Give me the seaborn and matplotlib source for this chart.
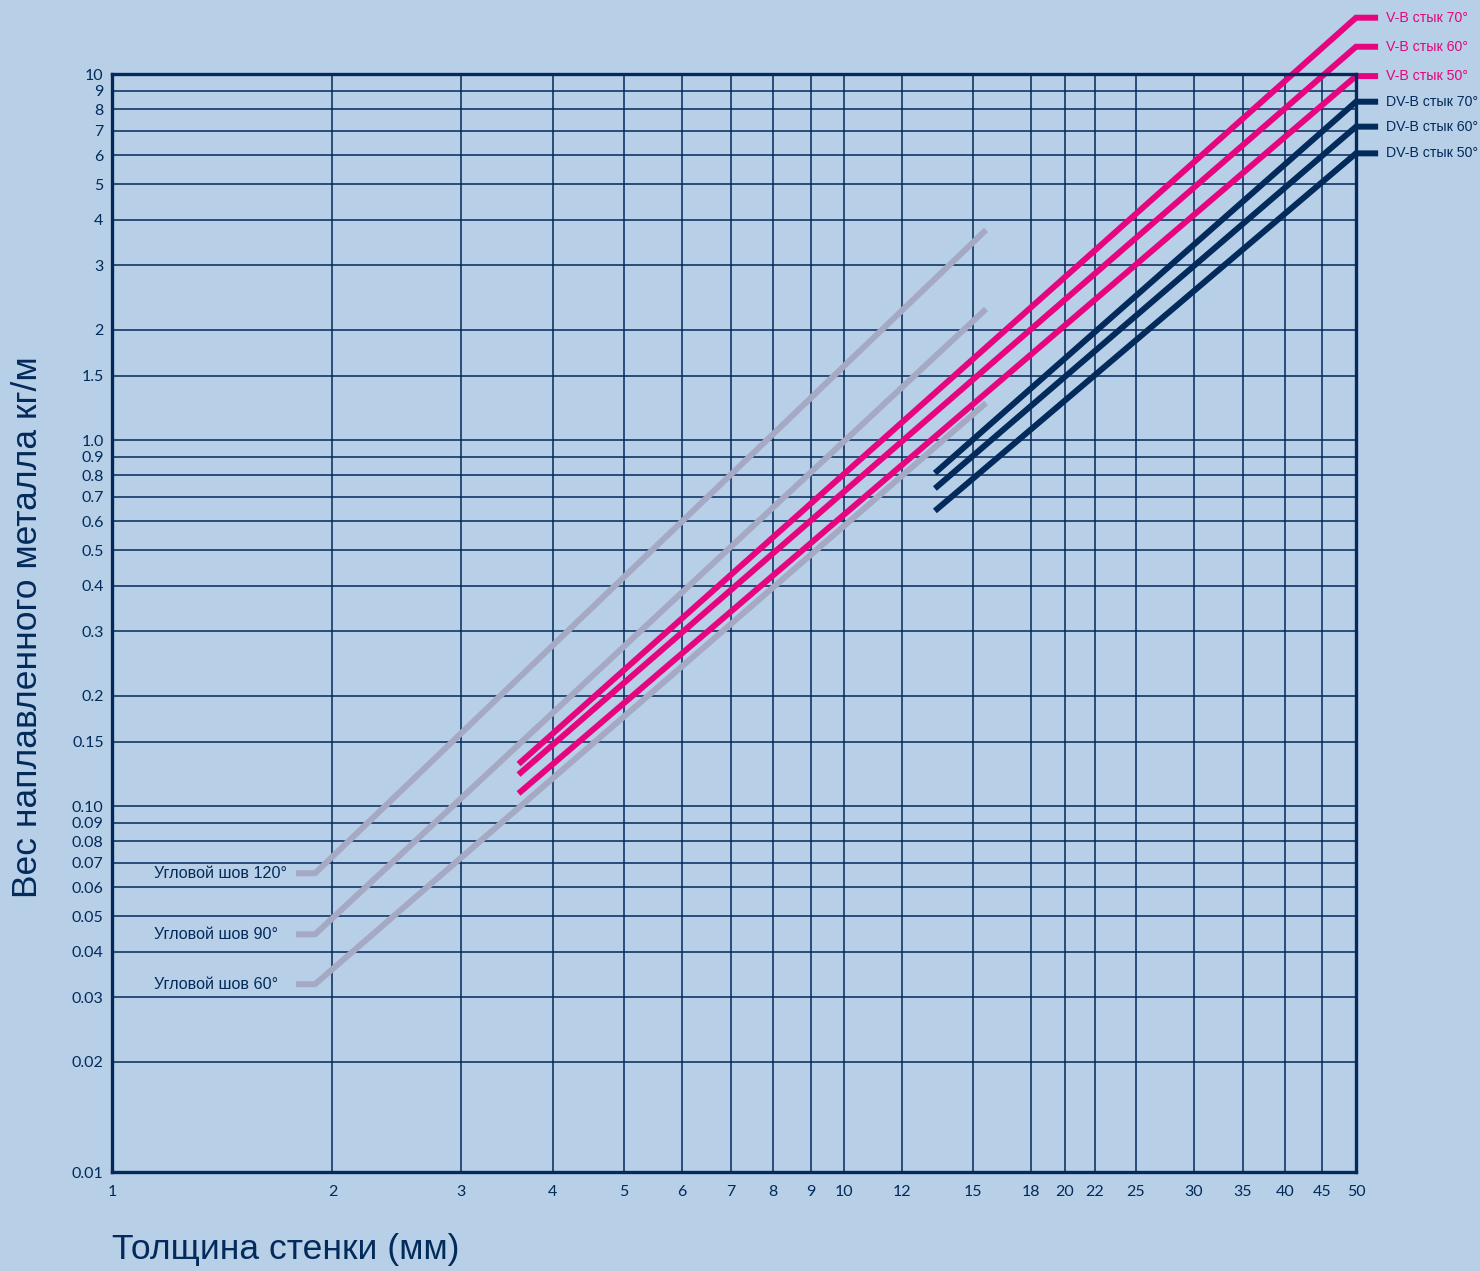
import numpy as np
import pandas as pd
import matplotlib
matplotlib.use("Agg")
import matplotlib.pyplot as plt
import seaborn as sns
from matplotlib.ticker import FixedLocator, FixedFormatter, NullLocator

# ---------------- data ----------------
x_ticks = [1, 2, 3, 4, 5, 6, 7, 8, 9, 10, 12, 15, 18, 20, 22, 25, 30, 35, 40, 45, 50]
x_tick_labels = ["1", "2", "3", "4", "5", "6", "7", "8", "9", "10", "12", "15", "18",
                 "20", "22", "25", "30", "35", "40", "45", "50"]
y_ticks = [0.01, 0.02, 0.03, 0.04, 0.05, 0.06, 0.07, 0.08, 0.09, 0.10, 0.15, 0.2, 0.3,
           0.4, 0.5, 0.6, 0.7, 0.8, 0.9, 1.0, 1.5, 2, 3, 4, 5, 6, 7, 8, 9, 10]
y_tick_labels = ["0.01", "0.02", "0.03", "0.04", "0.05", "0.06", "0.07", "0.08", "0.09",
                 "0.10", "0.15", "0.2", "0.3", "0.4", "0.5", "0.6", "0.7", "0.8", "0.9",
                 "1.0", "1.5", "2", "3", "4", "5", "6", "7", "8", "9", "10"]

series_names = ["Угловой шов 120°", "Угловой шов 90°", "Угловой шов 60°",
                "V-B стык 70°", "V-B стык 60°", "V-B стык 50°",
                "DV-B стык 70°", "DV-B стык 60°", "DV-B стык 50°"]
series_group = ["fillet", "fillet", "fillet", "vb", "vb", "vb", "dvb", "dvb", "dvb"]

fillet120_x = [1.784, 1.894, 15.62]
fillet120_y = [0.0655, 0.0655, 3.75]
fillet90_x = [1.784, 1.894, 15.62]
fillet90_y = [0.0446, 0.0446, 2.28]
fillet60_x = [1.784, 1.894, 15.62]
fillet60_y = [0.0326, 0.0326, 1.262]

vb70_x = [3.591, 50.0, 53.6]
vb70_y = [0.1302, 14.25, 14.25]
vb60_x = [3.591, 50.0, 53.6]
vb60_y = [0.1219, 11.87, 11.87]
vb50_x = [3.591, 50.0, 53.6]
vb50_y = [0.1082, 9.87, 9.87]

dvb70_x = [13.30, 50.0, 53.6]
dvb70_y = [0.812, 8.40, 8.40]
dvb60_x = [13.30, 50.0, 53.6]
dvb60_y = [0.737, 7.18, 7.18]
dvb50_x = [13.30, 50.0, 53.6]
dvb50_y = [0.640, 6.07, 6.07]

series_x = [fillet120_x, fillet90_x, fillet60_x, vb70_x, vb60_x, vb50_x,
            dvb70_x, dvb60_x, dvb50_x]
series_y = [fillet120_y, fillet90_y, fillet60_y, vb70_y, vb60_y, vb50_y,
            dvb70_y, dvb60_y, dvb50_y]

x_label = "Толщина стенки (мм)"
y_label = "Вес наплавленного металла кг/м"

# ---------------- style ----------------
BG = "#b8cfe8"
NAVY = "#022a5a"
MAGENTA = "#e6057e"
GRAY = "#a5a9c3"
group_color = {"fillet": GRAY, "vb": MAGENTA, "dvb": NAVY}

sns.set_style("white", {"axes.facecolor": BG, "figure.facecolor": BG})
plt.rcParams["font.family"] = ["Liberation Sans", "DejaVu Sans"]

rows = []
for name, xs, ys in zip(series_names, series_x, series_y):
    for i, (xv, yv) in enumerate(zip(xs, ys)):
        rows.append({"series": name, "order": i, "x": xv, "y": yv})
df = pd.DataFrame(rows)
palette = {n: group_color[g] for n, g in zip(series_names, series_group)}

fig = plt.figure(figsize=(14.8, 12.71), dpi=100, facecolor=BG)
ax = fig.add_axes([112 / 1480, 1 - 1172 / 1271, (1356 - 112) / 1480, (1172 - 74) / 1271])
ax.set_facecolor(BG)
ax.set_xscale("log")
ax.set_yscale("log")

sns.lineplot(data=df, x="x", y="y", hue="series", units="series", estimator=None,
             sort=False, palette=palette, legend=False, linewidth=4.3, ax=ax, zorder=5)
for ln in ax.lines:
    ln.set_clip_on(False)
    ln.set_solid_capstyle("butt")
    ln.set_solid_joinstyle("miter")

ax.set_xlim(1, 50)
ax.set_ylim(0.01, 10)

ax.xaxis.set_major_locator(FixedLocator(x_ticks))
ax.xaxis.set_major_formatter(FixedFormatter(x_tick_labels))
ax.xaxis.set_minor_locator(NullLocator())
ax.yaxis.set_major_locator(FixedLocator(y_ticks))
ax.yaxis.set_major_formatter(FixedFormatter(y_tick_labels))
ax.yaxis.set_minor_locator(NullLocator())

ax.grid(True, which="major", color=NAVY, linewidth=1.1, zorder=1)
ax.set_axisbelow(True)
for s in ax.spines.values():
    s.set_visible(True)
    s.set_color(NAVY)
    s.set_linewidth(2.4)
    s.set_zorder(6)

tick_font = ["Lato", "DejaVu Sans"]
ax.tick_params(axis="both", length=0, colors=NAVY, labelsize=11.5)
ax.tick_params(axis="y", pad=6)
ax.tick_params(axis="x", pad=9)
for lab in ax.get_xticklabels() + ax.get_yticklabels():
    lab.set_family(tick_font)
    lab.set_color(NAVY)
ax.set_xlabel("")
ax.set_ylabel("")

# series labels
for name, g, xs, ys in zip(series_names, series_group, series_x, series_y):
    if g == "fillet":
        ax.text(1.141, ys[0], name, ha="left", va="center", fontsize=11.6,
                color=NAVY, clip_on=False)
    else:
        ax.text(55.0, ys[-1], name, ha="left", va="center", fontsize=10.2,
                color=MAGENTA if g == "vb" else NAVY, clip_on=False)

fig.text(28 / 1480, 1 - 627 / 1271, y_label, rotation=90, ha="center", va="center",
         fontsize=25.5, color=NAVY)
fig.text(112 / 1480, 1 - 1250 / 1271, x_label, ha="left", va="center",
         fontsize=25.5, color=NAVY)

fig.savefig("out.png", dpi=100, facecolor=BG)
